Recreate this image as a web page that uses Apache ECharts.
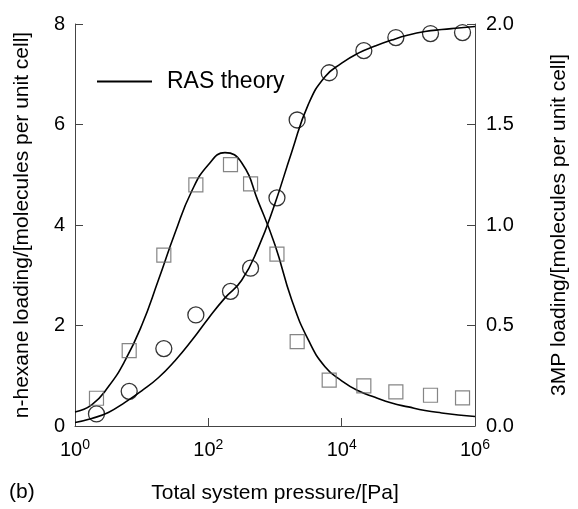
<!DOCTYPE html>
<html>
<head>
<meta charset="utf-8">
<script src="https://cdn.jsdelivr.net/npm/echarts@6/dist/echarts.min.js"></script>
<style>
html,body{margin:0;padding:0;background:#fff;}
#chart{width:578px;height:509px;}
</style>
</head>
<body>
<div id="chart"></div>
<script>
// Measured points (Total system pressure in Pa)
var pointPressure = [2.1, 6.5, 21.5, 65, 215, 430, 1070, 2150, 6500, 21500, 65000, 215000, 650000];
// n-hexane loading (left axis), molecules per unit cell
var hexanePoints = [0.24, 0.69, 1.54, 2.21, 2.68, 3.14, 4.54, 6.09, 7.03, 7.47, 7.73, 7.81, 7.83];
// 3MP loading (right axis), molecules per unit cell
var mpPoints = [0.138, 0.375, 0.85, 1.20, 1.30, 1.205, 0.855, 0.42, 0.228, 0.20, 0.17, 0.153, 0.14];

// RAS theory curves, read at quarter-decade pressures
var curvePressure = [1, 1.778, 3.162, 5.623, 10, 17.78, 31.62, 56.23, 100, 177.8, 316.2, 562.3, 1000,
  1778, 3162, 5623, 10000, 17783, 31623, 56234, 100000, 177828, 316228, 562341, 1000000];
var hexaneCurve = [0.07, 0.15, 0.27, 0.47, 0.70, 0.96, 1.30, 1.70, 2.14, 2.55, 2.90, 3.55, 4.43,
  5.45, 6.40, 6.95, 7.22, 7.42, 7.56, 7.68, 7.78, 7.85, 7.89, 7.92, 7.95];
var mpCurve = [0.07, 0.105, 0.195, 0.325, 0.50, 0.725, 0.96, 1.168, 1.30, 1.36, 1.31, 1.115, 0.90,
  0.628, 0.428, 0.295, 0.225, 0.175, 0.1425, 0.114, 0.095, 0.0775, 0.065, 0.055, 0.0475];

var xTickExponents = [0, 2, 4, 6];
var leftTicks = [0, 2, 4, 6, 8];
var rightTicks = [0.0, 0.5, 1.0, 1.5, 2.0];

function zip(a, b) { return a.map(function (v, i) { return [v, b[i]]; }); }

var FONT = '"Liberation Sans", Arial, Helvetica, sans-serif';
var axisColor = '#444';

var chart = echarts.init(document.getElementById('chart'));
chart.setOption({
  animation: false,
  backgroundColor: '#fff',
  textStyle: { fontFamily: FONT, color: '#000' },
  grid: { left: 75, right: 98, top: 24, bottom: 80 },
  legend: {
    data: [{ name: 'RAS theory', icon: 'rect' }],
    left: 97, top: 70, padding: 0,
    itemWidth: 55, itemHeight: 2,
    itemStyle: { color: '#000' },
    textStyle: { fontFamily: FONT, fontSize: 23, color: '#000', padding: [0, 0, 0, 10] }
  },
  xAxis: {
    type: 'log', logBase: 100, min: 1, max: 1000000,
    name: 'Total system pressure/[Pa]', nameLocation: 'middle', nameGap: 57,
    nameTextStyle: { fontFamily: FONT, fontSize: 21, color: '#000' },
    axisLine: { lineStyle: { color: axisColor, width: 1 } },
    axisTick: { inside: true, length: 8, lineStyle: { color: axisColor } },
    minorTick: { show: false },
    splitLine: { show: false },
    axisLabel: {
      margin: 12,
      formatter: function (v) {
        var e = Math.round(Math.log10(v));
        if (xTickExponents.indexOf(e) < 0) return '';
        return '{b|10}{s|' + e + '}';
      },
      rich: {
        b: { fontFamily: FONT, fontSize: 20, color: '#000', lineHeight: 24 },
        s: { fontFamily: FONT, fontSize: 14, color: '#000', verticalAlign: 'top', lineHeight: 14 }
      }
    }
  },
  yAxis: [{
    type: 'value', min: leftTicks[0], max: leftTicks[leftTicks.length - 1], interval: 2,
    name: 'n-hexane loading/[molecules per unit cell]', nameLocation: 'middle', nameRotate: 90, nameGap: 42,
    nameTextStyle: { fontFamily: FONT, fontSize: 21, color: '#000' },
    axisLine: { show: true, lineStyle: { color: axisColor, width: 1 } },
    axisTick: { show: true, inside: true, length: 8, lineStyle: { color: axisColor } },
    splitLine: { show: false },
    axisLabel: { margin: 10, fontFamily: FONT, fontSize: 20, color: '#000' }
  }, {
    type: 'value', min: rightTicks[0], max: rightTicks[rightTicks.length - 1], interval: 0.5,
    position: 'right',
    name: '3MP loading/[molecules per unit cell]', nameLocation: 'middle', nameRotate: 90, nameGap: 74,
    nameTextStyle: { fontFamily: FONT, fontSize: 21, color: '#000' },
    axisLine: { show: true, lineStyle: { color: axisColor, width: 1 } },
    axisTick: { show: true, inside: true, length: 8, lineStyle: { color: axisColor } },
    splitLine: { show: false },
    axisLabel: { margin: 11, fontFamily: FONT, fontSize: 20, color: '#000', formatter: function (v) { return v.toFixed(1); } }
  }],
  series: [{
    name: 'RAS theory', type: 'line', yAxisIndex: 0,
    data: zip(curvePressure, hexaneCurve), smooth: 0.5, symbol: 'none',
    lineStyle: { color: '#000', width: 1.6 }, itemStyle: { color: '#000' }, z: 3
  }, {
    name: 'RAS theory', type: 'line', yAxisIndex: 1,
    data: zip(curvePressure, mpCurve), smooth: 0.5, symbol: 'none',
    lineStyle: { color: '#000', width: 1.6 }, itemStyle: { color: '#000' }, z: 3
  }, {
    name: 'n-hexane', type: 'scatter', yAxisIndex: 0,
    data: zip(pointPressure, hexanePoints), symbol: 'circle', symbolSize: 16,
    itemStyle: { color: 'rgba(0,0,0,0)', borderColor: '#000', borderWidth: 1.3 }, z: 4
  }, {
    name: '3MP', type: 'scatter', yAxisIndex: 1,
    data: zip(pointPressure, mpPoints), symbol: 'rect', symbolSize: 14,
    itemStyle: { color: 'rgba(0,0,0,0)', borderColor: '#666', borderWidth: 1.2 }, z: 4
  }],
  graphic: [{
    type: 'text', left: 9, top: 482,
    style: { text: '(b)', fontFamily: FONT, fontSize: 21, fill: '#000' }
  }]
});
</script>
</body>
</html>
